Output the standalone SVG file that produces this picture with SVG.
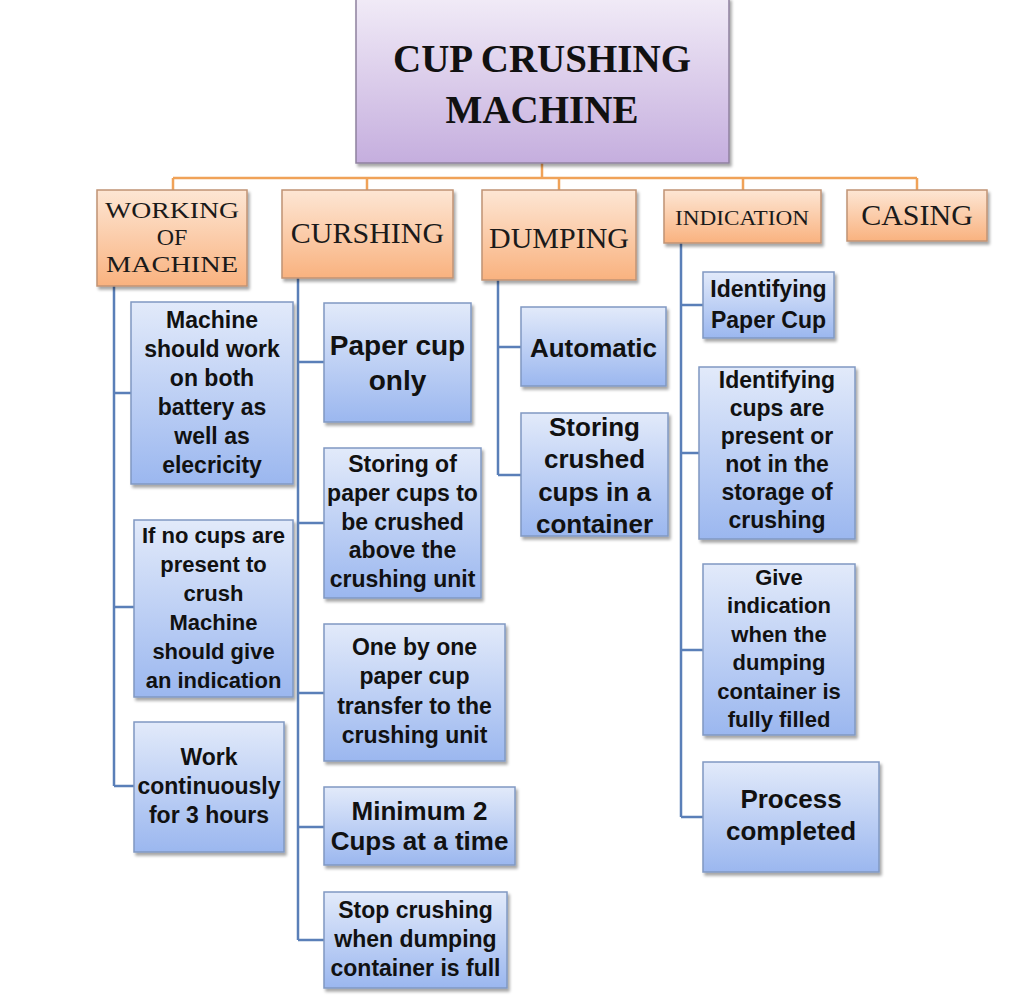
<svg xmlns="http://www.w3.org/2000/svg" width="1024" height="1004" viewBox="0 0 1024 1004">
<defs>
<linearGradient id="gP" x1="0" y1="0" x2="0" y2="1"><stop offset="0" stop-color="#f1ebf7"/><stop offset="1" stop-color="#c5aede"/></linearGradient>
<linearGradient id="gO" x1="0" y1="0" x2="0" y2="1"><stop offset="0" stop-color="#fde6d4"/><stop offset="1" stop-color="#f9b27f"/></linearGradient>
<linearGradient id="gB" x1="0" y1="0" x2="0" y2="1"><stop offset="0" stop-color="#e2eafa"/><stop offset="1" stop-color="#9bb7ef"/></linearGradient>
<filter id="sh" x="-10%" y="-10%" width="130%" height="130%"><feDropShadow dx="2" dy="3" stdDeviation="1.5" flood-color="#000" flood-opacity="0.35"/></filter>
<style>
.p{fill:url(#gP);stroke:#8f819f;stroke-width:1.5;filter:url(#sh)}
.o{fill:url(#gO);stroke:#c09374;stroke-width:1.5;filter:url(#sh)}
.b{fill:url(#gB);stroke:#8098c2;stroke-width:1.5;filter:url(#sh)}
.tt{font-family:"Liberation Serif","DejaVu Serif",serif;font-weight:bold;font-size:39px;fill:#111;text-anchor:middle}
.ct{font-family:"Liberation Serif","DejaVu Serif",serif;fill:#1a1a1a;text-anchor:middle}
.bt{font-family:"Liberation Sans","Noto Sans",Arial,sans-serif;font-weight:bold;fill:#111;text-anchor:middle}
.f22 text{font-size:22px}
.f23 text{font-size:23px}
.f26 text{font-size:26px}
.f28 text{font-size:28px}
.oc{stroke:#f0a258;stroke-width:2.5;fill:none}
.bc{stroke:#5a7fb8;stroke-width:2.5;fill:none}
</style>
</defs>
<rect width="1024" height="1004" fill="#fff"/>
<g id="connectors">
<path class="oc" d="M542,163V178M173,178H917M173,178V190M367,178V190M559,178V190M743,178V190M917,178V190"/>
<path class="bc" d="M114,286V786M114,393H131M114,607H134M114,786H134"/>
<path class="bc" d="M298,278V940M298,362H324M298,523H324M298,693H324M298,827H324M298,940H324"/>
<path class="bc" d="M498,280V475M498,347H521M498,475H521"/>
<path class="bc" d="M681,243V817M681,305H703M681,453H699M681,650H703M681,817H703"/>
</g>
<g id="root"><rect class="p" x="356" y="-2" width="373" height="165"/>
<text class="tt" x="542" y="72">CUP CRUSHING</text><text class="tt" x="542" y="123">MACHINE</text></g>
<g id="working"><rect class="o" x="97" y="190" width="150" height="96"/>
<text class="ct" font-size="24" x="172" y="218" textLength="134" lengthAdjust="spacingAndGlyphs">WORKING</text>
<text class="ct" font-size="24" x="172" y="245">OF</text>
<text class="ct" font-size="24" x="172" y="272" textLength="132" lengthAdjust="spacingAndGlyphs">MACHINE</text></g>
<g id="cursing"><rect class="o" x="282" y="190" width="171" height="88"/>
<text class="ct" font-size="30" x="367.5" y="243">CURSHING</text></g>
<g id="dumping"><rect class="o" x="482" y="190" width="154" height="90"/>
<text class="ct" font-size="29" x="559" y="248" textLength="140" lengthAdjust="spacingAndGlyphs">DUMPING</text></g>
<g id="indication"><rect class="o" x="664" y="190" width="157" height="53"/>
<text class="ct" font-size="20" x="742" y="225" textLength="134" lengthAdjust="spacingAndGlyphs">INDICATION</text></g>
<g id="casing"><rect class="o" x="847" y="190" width="140" height="51"/>
<text class="ct" font-size="30" x="917" y="225">CASING</text></g>

<g id="w1" class="f23"><rect class="b" x="131" y="302" width="162" height="182"/>
<text class="bt" x="212" y="328">Machine</text><text class="bt" x="212" y="357">should work</text><text class="bt" x="212" y="386">on both</text><text class="bt" x="212" y="415">battery as</text><text class="bt" x="212" y="444">well as</text><text class="bt" x="212" y="473">elecricity</text></g>
<g id="w2" class="f22"><rect class="b" x="134" y="520" width="159" height="177"/>
<text class="bt" x="213.5" y="543">If no cups are</text><text class="bt" x="213.5" y="572">present to</text><text class="bt" x="213.5" y="601">crush</text><text class="bt" x="213.5" y="630">Machine</text><text class="bt" x="213.5" y="659">should give</text><text class="bt" x="213.5" y="688">an indication</text></g>
<g id="w3" class="f23"><rect class="b" x="134" y="722" width="150" height="130"/>
<text class="bt" x="209" y="765">Work</text><text class="bt" x="209" y="794">continuously</text><text class="bt" x="209" y="823">for 3 hours</text></g>

<g id="c1" class="f28"><rect class="b" x="324" y="303" width="147" height="119"/>
<text class="bt" x="397.5" y="355">Paper cup</text><text class="bt" x="397.5" y="390">only</text></g>
<g id="c2" class="f23"><rect class="b" x="324" y="448" width="157" height="150"/>
<text class="bt" x="402.5" y="472">Storing of</text><text class="bt" x="402.5" y="501">paper cups to</text><text class="bt" x="402.5" y="530">be crushed</text><text class="bt" x="402.5" y="558">above the</text><text class="bt" x="402.5" y="587">crushing unit</text></g>
<g id="c3" class="f23"><rect class="b" x="324" y="624" width="181" height="137"/>
<text class="bt" x="414.5" y="655">One by one</text><text class="bt" x="414.5" y="684">paper cup</text><text class="bt" x="414.5" y="714">transfer to the</text><text class="bt" x="414.5" y="743">crushing unit</text></g>
<g id="c4" class="f26"><rect class="b" x="324" y="787" width="191" height="78"/>
<text class="bt" x="419.5" y="820">Minimum 2</text><text class="bt" x="419.5" y="850">Cups at a time</text></g>
<g id="c5" class="f23"><rect class="b" x="324" y="892" width="183" height="96"/>
<text class="bt" x="415.5" y="918">Stop crushing</text><text class="bt" x="415.5" y="947">when dumping</text><text class="bt" x="415.5" y="976">container is full</text></g>

<g id="d1" class="f26"><rect class="b" x="521" y="307" width="145" height="79"/>
<text class="bt" x="593.5" y="357">Automatic</text></g>
<g id="d2" class="f26"><rect class="b" x="521" y="413" width="147" height="123"/>
<text class="bt" x="594.5" y="436">Storing</text><text class="bt" x="594.5" y="468">crushed</text><text class="bt" x="594.5" y="501">cups in a</text><text class="bt" x="594.5" y="533">container</text></g>

<g id="i1" class="f23"><rect class="b" x="703" y="272" width="131" height="66"/>
<text class="bt" x="768.5" y="297">Identifying</text><text class="bt" x="768.5" y="328">Paper Cup</text></g>
<g id="i2" class="f23"><rect class="b" x="699" y="367" width="156" height="172"/>
<text class="bt" x="777" y="388">Identifying</text><text class="bt" x="777" y="416">cups are</text><text class="bt" x="777" y="444">present or</text><text class="bt" x="777" y="472">not in the</text><text class="bt" x="777" y="500">storage of</text><text class="bt" x="777" y="528">crushing</text></g>
<g id="i3" class="f22"><rect class="b" x="703" y="564" width="152" height="171"/>
<text class="bt" x="779" y="585">Give</text><text class="bt" x="779" y="613">indication</text><text class="bt" x="779" y="642">when the</text><text class="bt" x="779" y="670">dumping</text><text class="bt" x="779" y="699">container is</text><text class="bt" x="779" y="727">fully filled</text></g>
<g id="i4" class="f26"><rect class="b" x="703" y="762" width="176" height="110"/>
<text class="bt" x="791" y="808">Process</text><text class="bt" x="791" y="840">completed</text></g>
</svg>
